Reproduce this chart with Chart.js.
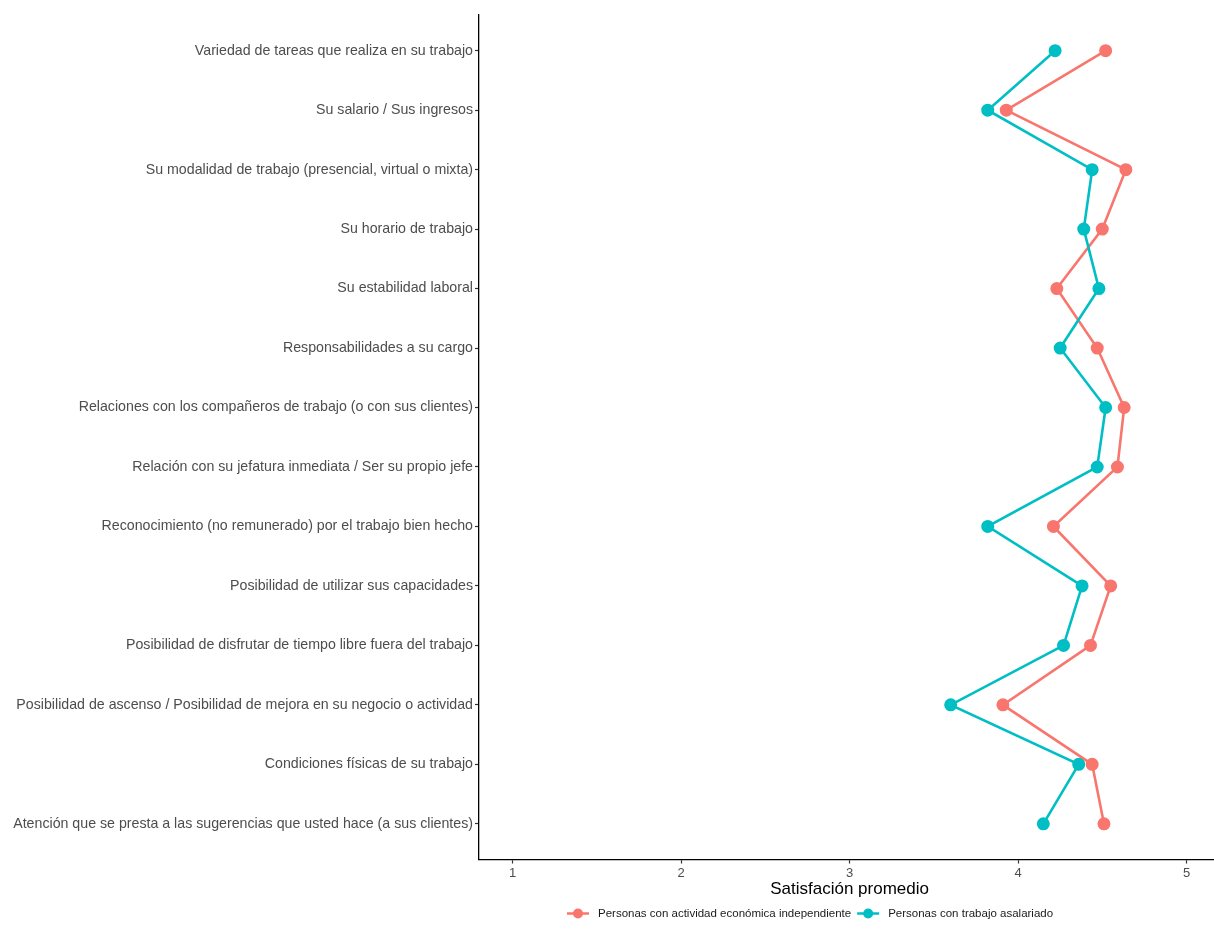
<!DOCTYPE html>
<html>
<head>
<meta charset="utf-8">
<script src="https://cdn.jsdelivr.net/npm/chart.js@4"></script>
<style>
  html, body { margin: 0; padding: 0; background: #fff; overflow: hidden; }
  canvas { display: block; }
</style>
</head>
<body>
<canvas id="grafico" width="1228" height="947"></canvas>
<script>
const categorias = [
    "Variedad de tareas que realiza en su trabajo",
    "Su salario / Sus ingresos",
    "Su modalidad de trabajo (presencial, virtual o mixta)",
    "Su horario de trabajo",
    "Su estabilidad laboral",
    "Responsabilidades a su cargo",
    "Relaciones con los compañeros de trabajo (o con sus clientes)",
    "Relación con su jefatura inmediata / Ser su propio jefe",
    "Reconocimiento (no remunerado) por el trabajo bien hecho",
    "Posibilidad de utilizar sus capacidades",
    "Posibilidad de disfrutar de tiempo libre fuera del trabajo",
    "Posibilidad de ascenso / Posibilidad de mejora en su negocio o actividad",
    "Condiciones físicas de su trabajo",
    "Atención que se presta a las sugerencias que usted hace (a sus clientes)"
];
const independiente = [4.52, 3.93, 4.64, 4.50, 4.23, 4.47, 4.63, 4.59, 4.21, 4.55, 4.43, 3.91, 4.44, 4.51];
const asalariado = [4.22, 3.82, 4.44, 4.39, 4.48, 4.25, 4.52, 4.47, 3.82, 4.38, 4.27, 3.60, 4.36, 4.15];
const ticksX = [1, 2, 3, 4, 5];
const series = ["Personas con actividad económica independiente", "Personas con trabajo asalariado"];

const fuente = "'Liberation Sans', Arial, sans-serif";
const gris = "#4d4d4d";

const puntos = (vals) => vals.map((v, i) => ({ x: v, y: i }));

// leyenda estilo ggplot (linea + punto)
const leyenda = {
    id: "leyenda",
    afterDraw(chart) {
        const ctx = chart.ctx;
        const y = chart.chartArea.bottom + 54;
        let x = 567;
        ctx.save();
        ctx.font = "11.5px " + fuente;
        ctx.textBaseline = "middle";
        ctx.textAlign = "left";
        [0, 1].forEach(i => {
            const ds = chart.data.datasets[i];
            ctx.strokeStyle = ds.borderColor;
            ctx.lineWidth = 2.5;
            ctx.beginPath();
            ctx.moveTo(x, y);
            ctx.lineTo(x + 22, y);
            ctx.stroke();
            ctx.fillStyle = ds.borderColor;
            ctx.beginPath();
            ctx.arc(x + 11, y, 5, 0, Math.PI * 2);
            ctx.fill();
            ctx.fillStyle = "#1a1a1a";
            ctx.fillText(ds.label, x + 31, y);
            x += 31 + ctx.measureText(ds.label).width + 6;
        });
        ctx.restore();
    }
};

new Chart(document.getElementById("grafico"), {
    type: "scatter",
    data: {
        datasets: [{
            label: series[0],
            data: puntos(independiente),
            borderColor: "#F8766D",
            backgroundColor: "#F8766D",
            showLine: true,
            borderWidth: 2.6,
            pointRadius: 5.2,
            pointHoverRadius: 5.2,
            order: 2
        }, {
            label: series[1],
            data: puntos(asalariado),
            borderColor: "#00BFC4",
            backgroundColor: "#00BFC4",
            showLine: true,
            borderWidth: 2.6,
            pointRadius: 5.2,
            pointHoverRadius: 5.2,
            order: 1
        }]
    },
    options: {
        responsive: false,
        animation: false,
        events: [],
        layout: { padding: { top: 15, right: 0, bottom: 51.6, left: 12 } },
        plugins: {
            legend: { display: false },
            tooltip: { enabled: false }
        },
        scales: {
            x: {
                type: "linear",
                min: 0.8,
                max: 5.2,
                afterBuildTicks: (s) => { s.ticks = ticksX.map(v => ({ value: v })); },
                grid: { drawOnChartArea: false, tickLength: 4, tickColor: "#333", tickWidth: 1.2 },
                border: { color: "#000", width: 1.3 },
                ticks: { color: gris, font: { size: 13, family: fuente, lineHeight: 1 }, padding: 3.5 },
                title: {
                    display: true,
                    text: "Satisfación promedio",
                    color: "#000",
                    font: { size: 17, family: fuente, lineHeight: 0.7 },
                    padding: { top: 0, bottom: 0 }
                }
            },
            y: {
                type: "linear",
                reverse: true,
                min: -0.6,
                max: 13.6,
                afterBuildTicks: (s) => { s.ticks = categorias.map((_, i) => ({ value: i })); },
                afterFit: (s) => { s.width = 467; },
                grid: { drawOnChartArea: false, tickLength: 4, tickColor: "#333", tickWidth: 1.2 },
                border: { color: "#000", width: 1.3 },
                ticks: {
                    autoSkip: false,
                    color: gris,
                    font: { size: 14.2, family: fuente },
                    padding: 2,
                    callback: (v) => categorias[v]
                }
            }
        }
    },
    plugins: [leyenda]
});
</script>
</body>
</html>
